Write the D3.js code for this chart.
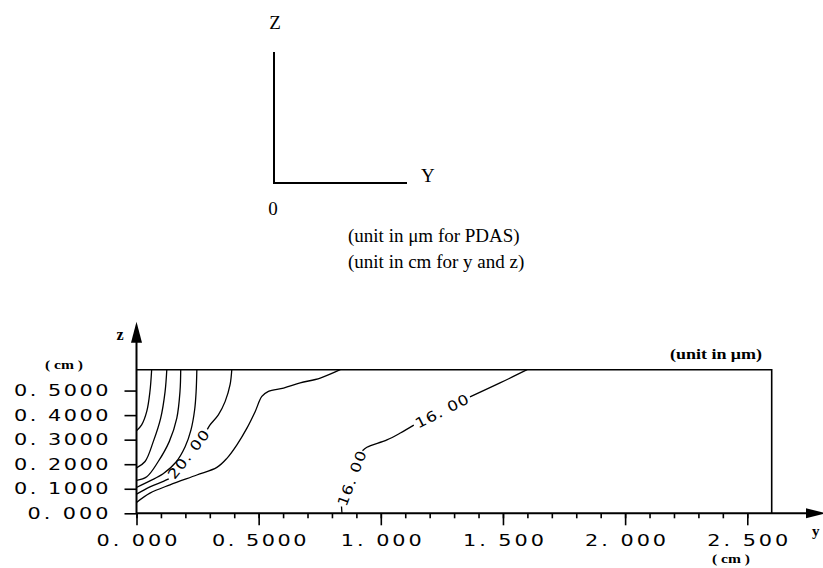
<!DOCTYPE html>
<html>
<head>
<meta charset="utf-8">
<script src="https://cdn.jsdelivr.net/npm/d3@7"></script>
<style>
  body { margin: 0; background: #fff; }
  svg { display: block; }
</style>
</head>
<body>
<svg id="chart" width="823" height="568"></svg>
<script>
// contour lines, [y (cm), z (cm)] points; labelled lines are split where the label sits
const contourA = [[[0.062, 0.585], [0.055, 0.496], [0.042, 0.415], [0.021, 0.360], [0, 0.336]]];
const contourB = [[[0.124, 0.585], [0.117, 0.496], [0.099, 0.388], [0.069, 0.293], [0.035, 0.211], [0, 0.185]]];
const contourC = [[[0.181, 0.585], [0.178, 0.496], [0.165, 0.388], [0.134, 0.292], [0.089, 0.211], [0.042, 0.149], [0, 0.134]]];
const contourD = [[[0.247, 0.585], [0.244, 0.495], [0.238, 0.422], [0.223, 0.340], [0.199, 0.271], [0.162, 0.209], [0.109, 0.161], [0.055, 0.132], [0, 0.105]]];
const contour20 = [
  [[0.390, 0.585], [0.383, 0.524], [0.363, 0.456], [0.335, 0.401], [0.301, 0.360], [0.290, 0.342]],
  [[0.132, 0.140], [0.110, 0.130], [0.055, 0.108], [0, 0.078]]
];
const contourE = [[[0.834, 0.585], [0.752, 0.551], [0.670, 0.531], [0.602, 0.510], [0.540, 0.497], [0.513, 0.476],
  [0.486, 0.415], [0.452, 0.347], [0.411, 0.279], [0.370, 0.224], [0.329, 0.187], [0.247, 0.156],
  [0.137, 0.116], [0.055, 0.082], [0, 0.044]]];
const contour16 = [
  [[0.841, 0], [0.839, 0.028]],
  [[0.925, 0.255], [0.943, 0.269], [1.025, 0.299], [1.080, 0.327], [1.135, 0.359]],
  [[1.365, 0.474], [1.490, 0.532], [1.599, 0.585]]
];
const contourLabels = [
  { text: "20. 00", from: [0.137, 0.144], to: [0.288, 0.336] },
  { text: "16. 00", from: [0.840, 0.034], to: [0.922, 0.250] },
  { text: "16. 00", from: [1.140, 0.361], to: [1.360, 0.472] }
];

const yTicks = [0, 0.1, 0.2, 0.3, 0.4, 0.5];
const yTickLabels = ["0. 000", "0. 1000", "0. 2000", "0. 3000", "0. 4000", "0. 5000"];
const xTicks = [0, 0.5, 1, 1.5, 2, 2.5];
const xTickLabels = ["0. 000", "0. 5000", "1. 000", "1. 500", "2. 000", "2. 500"];
const xMinorTicks = d3.range(0, 26).map(i => i / 10);

const yMax = 2.6, zMax = 0.585;
const serif = "'Liberation Serif', 'Times New Roman', serif";
const plotFont = "'DejaVu Sans', sans-serif";
const stretch = 1.3; // the plotter font is wider than DejaVu Sans

const svg = d3.select('#chart');
svg.append('rect').attr('width', 823).attr('height', 568).attr('fill', '#fff');

// --- small orientation sketch at the top ---
const sketch = svg.append('g').attr('stroke', '#000').attr('stroke-width', 2);
sketch.append('line').attr('x1', 274).attr('y1', 52).attr('x2', 274).attr('y2', 183);
sketch.append('line').attr('x1', 273).attr('y1', 183).attr('x2', 407).attr('y2', 183);

const sketchText = [
  { t: 'Z', x: 275, y: 29, anchor: 'middle' },
  { t: 'Y', x: 421, y: 182, anchor: 'start' },
  { t: '0', x: 273, y: 215, anchor: 'middle' },
  { t: '(unit in \u03bcm for PDAS)', x: 348, y: 242, anchor: 'start' },
  { t: '(unit in cm for y and z)', x: 348, y: 268, anchor: 'start' }
];
svg.selectAll('text.sketch')
  .data(sketchText)
  .join('text')
  .attr('class', 'sketch')
  .attr('x', d => d.x)
  .attr('y', d => d.y)
  .attr('text-anchor', d => d.anchor)
  .attr('font-family', serif)
  .attr('font-size', 19)
  .text(d => d.t);

// --- contour plot ---
const x = d3.scaleLinear().domain([0, yMax]).range([136.5, 771.7]);
const z = d3.scaleLinear().domain([0, zMax]).range([513.3, 369.7]);

// frame (top and right edges)
svg.append('path')
  .attr('d', `M${x(0)},${z(zMax)} H${x(yMax)} V${z(0)}`)
  .attr('fill', 'none')
  .attr('stroke', '#000')
  .attr('stroke-width', 1.6);

const line = d3.line()
  .x(d => x(d[0]))
  .y(d => z(d[1]))
  .curve(d3.curveCatmullRom.alpha(0.5));

const segments = [contourA, contourB, contourC, contourD, contour20, contourE, contour16].flat();
svg.append('g')
  .selectAll('path')
  .data(segments)
  .join('path')
  .attr('d', line)
  .attr('fill', 'none')
  .attr('stroke', '#000')
  .attr('stroke-width', 1.3);

// contour labels, rotated along the line
svg.append('g')
  .selectAll('text')
  .data(contourLabels)
  .join('text')
  .attr('transform', d => {
    const x0 = x(d.from[0]), y0 = z(d.from[1]);
    const x1 = x(d.to[0]), y1 = z(d.to[1]);
    const a = Math.atan2(y1 - y0, x1 - x0) * 180 / Math.PI;
    return `translate(${(x0 + x1) / 2},${(y0 + y1) / 2}) rotate(${a}) scale(1.2,1)`;
  })
  .attr('text-anchor', 'middle')
  .attr('dy', '0.36em')
  .attr('font-family', plotFont)
  .attr('font-size', 14)
  .attr('textLength', 58 / 1.2)
  .attr('lengthAdjust', 'spacing')
  .text(d => d.text);

// axes
const yAxis = svg.append('g')
  .attr('transform', `translate(${x(0)},0)`)
  .call(d3.axisLeft(z).tickValues(yTicks).tickFormat((d, i) => yTickLabels[i]).tickSize(12).tickPadding(16));

const xMinor = svg.append('g')
  .attr('transform', `translate(0,${z(0)})`)
  .call(d3.axisBottom(x).tickValues(xMinorTicks).tickFormat('').tickSize(5));

const xAxis = svg.append('g')
  .attr('transform', `translate(0,${z(0)})`)
  .call(d3.axisBottom(x).tickValues(xTicks).tickFormat((d, i) => xTickLabels[i]).tickSize(12).tickPadding(9));

[yAxis, xMinor, xAxis].forEach(g => {
  g.select('.domain').remove();
  g.selectAll('line').attr('stroke', '#000').attr('stroke-width', 1.6);
  g.selectAll('text')
    .attr('fill', '#000')
    .attr('font-family', plotFont)
    .attr('font-size', 16)
    .attr('transform', `scale(${stretch},1)`)
    .attr('x', function () { return +d3.select(this).attr('x') / stretch; })
    .attr('textLength', function () { return this.textContent.length * 13.5 / stretch; })
    .attr('lengthAdjust', 'spacing');
});

// axis lines with arrow heads
const axisLines = svg.append('g').attr('stroke', '#000').attr('stroke-width', 2);
axisLines.append('line').attr('x1', x(0)).attr('y1', z(0)).attr('x2', x(0)).attr('y2', z(zMax) - 30);
axisLines.append('line').attr('x1', x(0)).attr('y1', z(0)).attr('x2', 810).attr('y2', z(0));
svg.append('path')
  .attr('d', `M${x(0)},${z(zMax) - 48} L${x(0) - 5.5},${z(zMax) - 27} L${x(0) + 5.5},${z(zMax) - 27} Z`)
  .attr('fill', '#000');
svg.append('path')
  .attr('d', `M826,${z(0)} L806,${z(0) - 5} L806,${z(0) + 5} Z`)
  .attr('fill', '#000');

// axis names and unit notes
const notes = [
  { t: 'z', x: 120, y: 340, size: 16, anchor: 'middle' },
  { t: 'y', x: 812, y: 536, size: 15, anchor: 'start' },
  { t: '( cm )', x: 64, y: 369, size: 12, anchor: 'middle', len: 38 },
  { t: '( cm )', x: 731, y: 563, size: 12, anchor: 'middle', len: 38 },
  { t: '(unit in \u03bcm)', x: 762, y: 359, size: 14, anchor: 'end', len: 92 }
];
svg.append('g')
  .selectAll('text')
  .data(notes)
  .join('text')
  .attr('x', d => d.x)
  .attr('y', d => d.y)
  .attr('text-anchor', d => d.anchor)
  .attr('font-family', serif)
  .attr('font-weight', 'bold')
  .attr('font-size', d => d.size)
  .attr('textLength', d => d.len || null)
  .attr('lengthAdjust', 'spacingAndGlyphs')
  .text(d => d.t);
</script>
</body>
</html>
